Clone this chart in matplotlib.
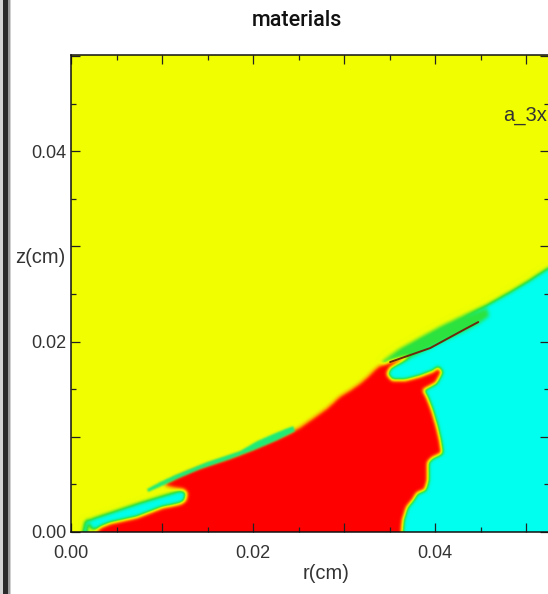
import numpy as np
import matplotlib
matplotlib.use("Agg")
import matplotlib.pyplot as plt
from matplotlib.path import Path
from matplotlib.colors import LinearSegmentedColormap
from matplotlib.patches import Rectangle
from matplotlib.ticker import MultipleLocator, FuncFormatter

# ---- material field values (cyan = 0, green mix = 0.25, yellow = 0.5, red = 1) ----
MAT_CYAN, MAT_MIX, MAT_LAYER, MAT_YELLOW, MAT_RED = 0.0, 0.25, 0.17, 0.5, 1.0

# domain (cm)
r_max, z_max = 0.0525, 0.0501

# lower-right cyan material, below the yellow interface
cyan_r = [0.03396, 0.03484, 0.03615, 0.03835, 0.04055, 0.04308, 0.04571, 0.04824,
          0.05044, 0.05242, 0.05374, 0.05374, 0.03396]
cyan_z = [0.01753, 0.01837, 0.01921, 0.02037, 0.02152, 0.02268, 0.02383, 0.02520,
          0.02646, 0.02772, 0.02835, 0.0, 0.0]

# mixed band around the jet streak
band_r = [0.03451, 0.03615, 0.03835, 0.04055, 0.04308, 0.04571, 0.04593, 0.04473,
          0.04308, 0.04055, 0.03835, 0.03615, 0.03505]
band_z = [0.01816, 0.01911, 0.02026, 0.02142, 0.02257, 0.02352, 0.02268, 0.02184,
          0.02100, 0.01984, 0.01879, 0.01774, 0.01743]

# thin layer riding on the red front (left part)
layer_r = [0.00835, 0.00978, 0.01143, 0.01495, 0.01857, 0.02044, 0.02220, 0.02352,
           0.02440, 0.02462, 0.02242, 0.02022, 0.01747, 0.01418, 0.01143, 0.00978, 0.00846]
layer_z = [0.00451, 0.00525, 0.00598, 0.00735, 0.00850, 0.00955, 0.01029, 0.01081,
           0.01113, 0.01058, 0.00955, 0.00866, 0.00766, 0.00661, 0.00549, 0.00475, 0.00420]

# cyan sliver near the axis
sliver_r = [0.00187, 0.00264, 0.00429, 0.00725, 0.01011, 0.01198, 0.01264, 0.01242,
            0.01011, 0.00725, 0.00429, 0.00319, 0.00231]
sliver_z = [0.00115, 0.00147, 0.00199, 0.00294, 0.00378, 0.00430, 0.00420, 0.00315,
            0.00252, 0.00147, 0.00073, 0.00042, 0.00031]

# small fragment at the origin
frag_r = [0.00132, 0.00154, 0.00187, 0.00209, 0.00187, 0.00176]
frag_z = [0.0, 0.00105, 0.00136, 0.00115, 0.00084, 0.0]

# red material
red_r = [0.00286, 0.00319, 0.00429, 0.00725, 0.01011, 0.01198, 0.01264, 0.01275,
         0.01231, 0.01143, 0.01044, 0.01022, 0.01088, 0.01165, 0.01308, 0.01495,
         0.01670, 0.01857, 0.02044, 0.02220, 0.02374, 0.02516, 0.02659, 0.02813,
         0.02956, 0.03066, 0.03176, 0.03253, 0.03341, 0.03396, 0.03560, 0.03725,
         0.03615, 0.03505, 0.03473, 0.03527, 0.03670, 0.03835, 0.03978, 0.04033,
         0.04077, 0.04011, 0.03868, 0.03912, 0.03967, 0.04022, 0.04055, 0.04077,
         0.03967, 0.03923, 0.03923, 0.03890, 0.03802, 0.03758, 0.03692, 0.03648,
         0.03637]
red_z = [0.0, 0.00052, 0.00094, 0.00157, 0.00262, 0.00294, 0.00336, 0.00409,
         0.00451, 0.00462, 0.00483, 0.00504, 0.00535, 0.00577, 0.00640, 0.00703,
         0.00756, 0.00819, 0.00892, 0.00966, 0.01029, 0.01102, 0.01197, 0.01302,
         0.01428, 0.01491, 0.01564, 0.01627, 0.01711, 0.01753, 0.01806, 0.01848,
         0.01785, 0.01722, 0.01659, 0.01596, 0.01596, 0.01638, 0.01690, 0.01732,
         0.01680, 0.01564, 0.01491, 0.01417, 0.01281, 0.01102, 0.00966, 0.00829,
         0.00777, 0.00735, 0.00546, 0.00441, 0.00409, 0.00336, 0.00262, 0.00126,
         0.0]

# thin jet streak
streak_r = [0.03505, 0.03945, 0.04308, 0.04473]
streak_z = [0.01785, 0.01932, 0.02121, 0.02205]

# ---- rasterise the materials onto a grid ----
nr, nz = 956, 954
rc = (np.arange(nr) + 0.5) * r_max / nr
zc = (np.arange(nz) + 0.5) * z_max / nz
R, Z = np.meshgrid(rc, zc)
pts = np.column_stack([R.ravel(), Z.ravel()])


def region(pr, pz):
    return Path(np.column_stack([pr, pz])).contains_points(pts).reshape(R.shape)


field = np.full(R.shape, MAT_YELLOW)
for pr, pz, val in [
    (cyan_r, cyan_z, MAT_CYAN),
    (band_r, band_z, MAT_MIX),
    (sliver_r, sliver_z, MAT_CYAN),
    (frag_r, frag_z, MAT_CYAN),
    (red_r, red_z, MAT_RED),
]:
    field[region(pr, pz)] = val


def smooth(a, s):
    """Separable gaussian mixing of the material fractions."""
    k = np.arange(-int(3 * s) - 1, int(3 * s) + 2)
    w = np.exp(-0.5 * (k / s) ** 2)
    w /= w.sum()
    p = len(k) // 2
    a = np.pad(a, p, mode="edge")
    a = np.apply_along_axis(lambda v: np.convolve(v, w, mode="valid"), 0, a)
    a = np.apply_along_axis(lambda v: np.convolve(v, w, mode="valid"), 1, a)
    return a


field = smooth(field, 3.8)

cmap = LinearSegmentedColormap.from_list(
    "materials",
    [(0.0, "#00ffee"), (0.25, "#2de23c"), (0.5, "#f0ff00"),
     (0.75, "#ff9a00"), (1.0, "#ff0000")])

rgb = cmap(np.clip(field, 0, 1))[..., :3]
# the thin front layer is composited over the red with a sharper interface
layer_frac = smooth(region(layer_r, layer_z).astype(float), 1.8)[..., None]
layer_rgb = np.array(cmap(MAT_LAYER)[:3])
rgb = rgb * (1 - layer_frac) + layer_rgb * layer_frac

# ---- figure ----
fig = plt.figure(figsize=(5.48, 5.94), dpi=100)
fig.patch.set_facecolor("white")
ax = fig.add_axes([71 / 548, 62 / 594, 478 / 548, 477 / 594])

ax.imshow(rgb, origin="lower", extent=[0, r_max, 0, z_max],
          interpolation="bilinear", aspect="auto")
ax.plot(streak_r, streak_z, color="#6b2a0c", lw=1.4, solid_capstyle="round")

ax.set_xlim(0, r_max)
ax.set_ylim(0, z_max)

fmt = FuncFormatter(lambda v, p: f"{v:.2f}" if abs(round(v / 0.02) * 0.02 - v) < 1e-9 else "")
for axis in (ax.xaxis, ax.yaxis):
    axis.set_major_locator(MultipleLocator(0.01))
    axis.set_minor_locator(MultipleLocator(0.005))
    axis.set_major_formatter(fmt)

ax.tick_params(which="both", direction="in", top=True, right=True,
               color="#222222", width=0.9)
ax.tick_params(which="major", length=6.5)
ax.tick_params(which="minor", length=3.6)
ax.tick_params(axis="x", pad=9.5, labelsize=13, labelcolor="#333333")
ax.tick_params(axis="y", pad=3, labelsize=13, labelcolor="#333333")
for lab in ax.get_xticklabels() + ax.get_yticklabels():
    lab.set_family("Liberation Sans")

for sp in ax.spines.values():
    sp.set_linewidth(1.1)
    sp.set_color("#111111")

ax.set_xlabel("r(cm)", family="Liberation Sans", fontsize=14.5, color="#333333", va="center")
ax.xaxis.set_label_coords(0.5335, -0.088)
ax.set_ylabel("z(cm)", family="Liberation Sans", fontsize=14.5, color="#333333",
              rotation=0, ha="right", va="center")
ax.yaxis.set_label_coords(-0.012, 0.575)

ax.text(0.0475, 0.0432, "a_3x", family="Liberation Sans", fontsize=14.5,
        color="#333333", va="baseline", ha="left", clip_on=False)

fig.text(297 / 548, 1 - 26 / 594, "materials", family="Roboto", weight="medium",
         fontsize=15.5, color="#111111", ha="center", va="baseline")

# window frame strip along the left edge
fig.patches.append(Rectangle((0, 0), 3 / 548, 1, transform=fig.transFigure,
                             facecolor="#d4d4d4", edgecolor="none"))
fig.patches.append(Rectangle((3 / 548, 0), 4.5 / 548, 1, transform=fig.transFigure,
                             facecolor="#2a2a2a", edgecolor="none"))
fig.patches.append(Rectangle((7.5 / 548, 0), 2 / 548, 1, transform=fig.transFigure,
                             facecolor="#9a9a9a", edgecolor="none"))
fig.patches.append(Rectangle((10 / 548, 0), 1 / 548, 1, transform=fig.transFigure,
                             facecolor="#d0d0d0", edgecolor="none"))

fig.savefig("out.png", dpi=100)
